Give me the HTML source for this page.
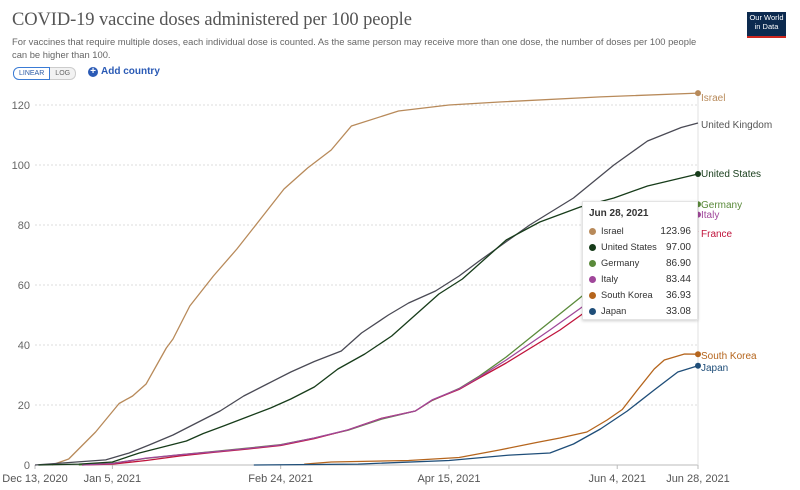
<!DOCTYPE html>
<html><head><meta charset="utf-8">
<style>
body{margin:0;background:#fff;font-family:"Liberation Sans",sans-serif;}
#wrap{position:relative;width:800px;height:490px;overflow:hidden;}
.title{position:absolute;left:12px;top:10px;font-family:"Liberation Serif",serif;font-size:18.5px;color:#555;letter-spacing:-0.1px}
.sub{position:absolute;left:12px;top:35px;width:700px;font-size:9.4px;line-height:13px;color:#666;}
.btns{position:absolute;left:13px;top:67px;display:flex;font-size:7px;}
.btn{border:1px solid #ccc;padding:2px 5px;color:#666;}
.btn.on{border-color:#3a7bd5;color:#2a5aa5;border-radius:6px 0 0 6px;}
.btn.off{border-radius:0 6px 6px 0;border-left:none;background:#f2f2f2}
.add{position:absolute;left:88px;top:66px;font-size:10px;color:#2a5ab5;font-weight:bold;}
.add span{display:inline-block;width:10px;height:10px;border-radius:50%;background:#2a5ab5;color:#fff;text-align:center;line-height:10px;font-size:10px;margin-right:3px;}
.logo{position:absolute;left:747px;top:12px;width:39px;height:26px;background:#0c2a4f;border-bottom:2px solid #ce261e;color:#fff;font-size:7.5px;text-align:center;line-height:9px;padding-top:1px;box-sizing:border-box}
.tip{position:absolute;left:582px;top:201px;width:114px;height:117px;background:#fff;border:1px solid #e4e4e4;box-shadow:0 1px 3px rgba(0,0,0,.2);font-size:9.3px;color:#333;}
.tip .h{position:absolute;left:6px;top:6px;font-weight:bold;font-size:10px;}
.row{position:absolute;left:6px;width:102px;height:12px;}
.row i{display:inline-block;width:7px;height:7px;border-radius:50%;margin-right:5px;vertical-align:-1px}
.row b{position:absolute;right:0;font-weight:normal;font-size:10px}
</style></head><body>
<div id="wrap">
<div class="title">COVID-19 vaccine doses administered per 100 people</div>
<div class="sub">For vaccines that require multiple doses, each individual dose is counted. As the same person may receive more than one dose, the number of doses per 100 people can be higher than 100.</div>
<div class="btns"><div class="btn on">LINEAR</div><div class="btn off">LOG</div></div>
<div class="add"><span>+</span>Add country</div>
<div class="logo">Our World<br>in Data</div>
<svg id="chart" width="800" height="490" style="position:absolute;left:0;top:0"></svg>
<div class="tip">
<div class="h">Jun 28, 2021</div>
<div class="row" style="top:24px"><i style="background:#b88a5a"></i>Israel<b>123.96</b></div>
<div class="row" style="top:40px"><i style="background:#173c1a"></i>United States<b>97.00</b></div>
<div class="row" style="top:56px"><i style="background:#5a8a3a"></i>Germany<b>86.90</b></div>
<div class="row" style="top:72px"><i style="background:#a0479a"></i>Italy<b>83.44</b></div>
<div class="row" style="top:88px"><i style="background:#b5651d"></i>South Korea<b>36.93</b></div>
<div class="row" style="top:104px"><i style="background:#1f4e79"></i>Japan<b>33.08</b></div>
</div>
</div>
<script>
const yTicks=[0,20,40,60,80,100,120];
const xTickDays=[0,23,73,123,173,197];
const xTickLabels=["Dec 13, 2020","Jan 5, 2021","Feb 24, 2021","Apr 15, 2021","Jun 4, 2021","Jun 28, 2021"];
const israelDays=[5,10,18,25,29,33,39,41,46,53,60,67,74,81,88,94,108,123,138,168,197];
const israelVals=[0,2,11,20.5,23,27,39,42,53,63,72,82,92,99,105,113,118,120,121,122.7,123.96];
const ukDays=[0,21,28,34,41,48,55,62,69,76,83,91,97,105,111,119,126,132,147,160,172,182,192,197];
const ukVals=[0,1.7,4,6.7,10,14,18,23,27,31,34.5,38,44,50,54,58,63,68,80,89,100,108,112.5,114];
const usDays=[1,13,23,31,38,45,50,56,63,70,76,83,90,98,106,113,120,127,132,140,150,162,172,182,197];
const usVals=[0,0.3,1,4,6,8,10.5,13,16,19,22,26,32,37,43,50,57,62,67,75,81,86,89,93,97];
const deDays=[13,23,33,43,53,63,73,83,93,103,113,118,126,132,140,150,160,170,180,190,197];
const deVals=[0,0.6,2.2,3.4,4.5,5.6,6.8,9,11.6,15.3,18,21.5,25.5,29.6,36,45,54,63,72,81,86.9];
const itDays=[14,23,33,43,53,63,73,83,93,103,113,118,126,132,140,153,163,173,183,193,197];
const itVals=[0,0.5,2.3,3.4,4.4,5.5,6.7,9,11.7,15.5,18,21.7,25.4,29.3,35,45,53,61,70,79,83.44];
const frDays=[14,23,33,43,53,63,73,83,93,103,113,118,126,132,140,156,166,176,186,197];
const frVals=[0,0.3,1.5,3,4.2,5.3,6.5,8.8,11.7,15.6,18,21.6,25.2,29,34,45,53,61,69,78];
const krDays=[80,88,111,126,138,149,156,164,170,174.5,179,184,187,193,197];
const krVals=[0.3,1,1.5,2.5,5,7.5,9,11,15,18.5,25,32,35,37,36.93];
const jpDays=[65,96,123,141,153,160,168,176,184,191,197];
const jpVals=[0,0.3,1.5,3.3,4,7,12,18,25,31,33.08];
const series=[
 {n:"israel",d:israelDays,v:israelVals,c:"#b88a5a",label:"Israel",ly:97,lc:"#b88a5a",dot:true},
 {n:"united-kingdom",d:ukDays,v:ukVals,c:"#4a4a55",label:"United Kingdom",ly:124,lc:"#555",dot:false},
 {n:"germany",d:deDays,v:deVals,c:"#5a8a3a",label:"Germany",ly:204,lc:"#5a8a3a",dot:true},
 {n:"france",d:frDays,v:frVals,c:"#c0143c",label:"France",ly:233,lc:"#c0143c",dot:false},
 {n:"italy",d:itDays,v:itVals,c:"#a0479a",label:"Italy",ly:214,lc:"#a0479a",dot:true},
 {n:"united-states",d:usDays,v:usVals,c:"#173c1a",label:"United States",ly:173,lc:"#173c1a",dot:true},
 {n:"south-korea",d:krDays,v:krVals,c:"#b5651d",label:"South Korea",ly:355,lc:"#b5651d",dot:true},
 {n:"japan",d:jpDays,v:jpVals,c:"#1f4e79",label:"Japan",ly:367,lc:"#1f4e79",dot:true}
];
const X0=35,X1=698,Y0=465,Y1=105,DMAX=197,VMAX=120;
const xs=d=>X0+(X1-X0)*d/DMAX;
const ys=v=>Y0-(Y0-Y1)*v/VMAX;
const svg=document.getElementById('chart');
const NS="http://www.w3.org/2000/svg";
function mk(t,a){const e=document.createElementNS(NS,t);for(const k in a)e.setAttribute(k,a[k]);svg.appendChild(e);return e;}
yTicks.forEach(t=>{
 if(t>0){const g=mk('line',{x1:X0,x2:X1,y1:ys(t),y2:ys(t),stroke:'#ddd','stroke-dasharray':'2,2'});
 
 }
 const tx=mk('text',{x:30,y:ys(t)+4,'text-anchor':'end','font-size':'11',fill:'#666','font-family':'Liberation Sans, sans-serif'});
 tx.textContent=t;
 
 
});
const ax=mk('line',{x1:X0,x2:X1,y1:Y0,y2:Y0,stroke:'#bbb'});


const vl=mk('line',{x1:X1,x2:X1,y1:90,y2:Y0,stroke:'#e2e2e2'});


xTickDays.forEach((d,i)=>{
 const tk=mk('line',{x1:xs(d),x2:xs(d),y1:Y0,y2:Y0+4,stroke:'#bbb'});
 
 
 const tx=mk('text',{x:xs(d),y:482,'text-anchor':'middle','font-size':'11',fill:'#555','font-family':'Liberation Sans, sans-serif'});
 tx.textContent=xTickLabels[i];
 
 
});
series.forEach(s=>{
 const pts=s.d.map((d,i)=>xs(d).toFixed(1)+','+ys(s.v[i]).toFixed(1)).join(' ');
 const p=mk('polyline',{points:pts,fill:'none',stroke:s.c,'stroke-width':'1.3','stroke-linejoin':'round'});
 
 
 const last=s.v.length-1;
 if(s.dot){const c=mk('circle',{cx:xs(s.d[last]),cy:ys(s.v[last]),r:3,fill:s.c});
 
 }
 const t=mk('text',{x:701,y:s.ly+4,'font-size':'10',fill:s.lc,'font-family':'Liberation Sans, sans-serif'});
 t.textContent=s.label;
 
 
});
</script>
</body></html>
